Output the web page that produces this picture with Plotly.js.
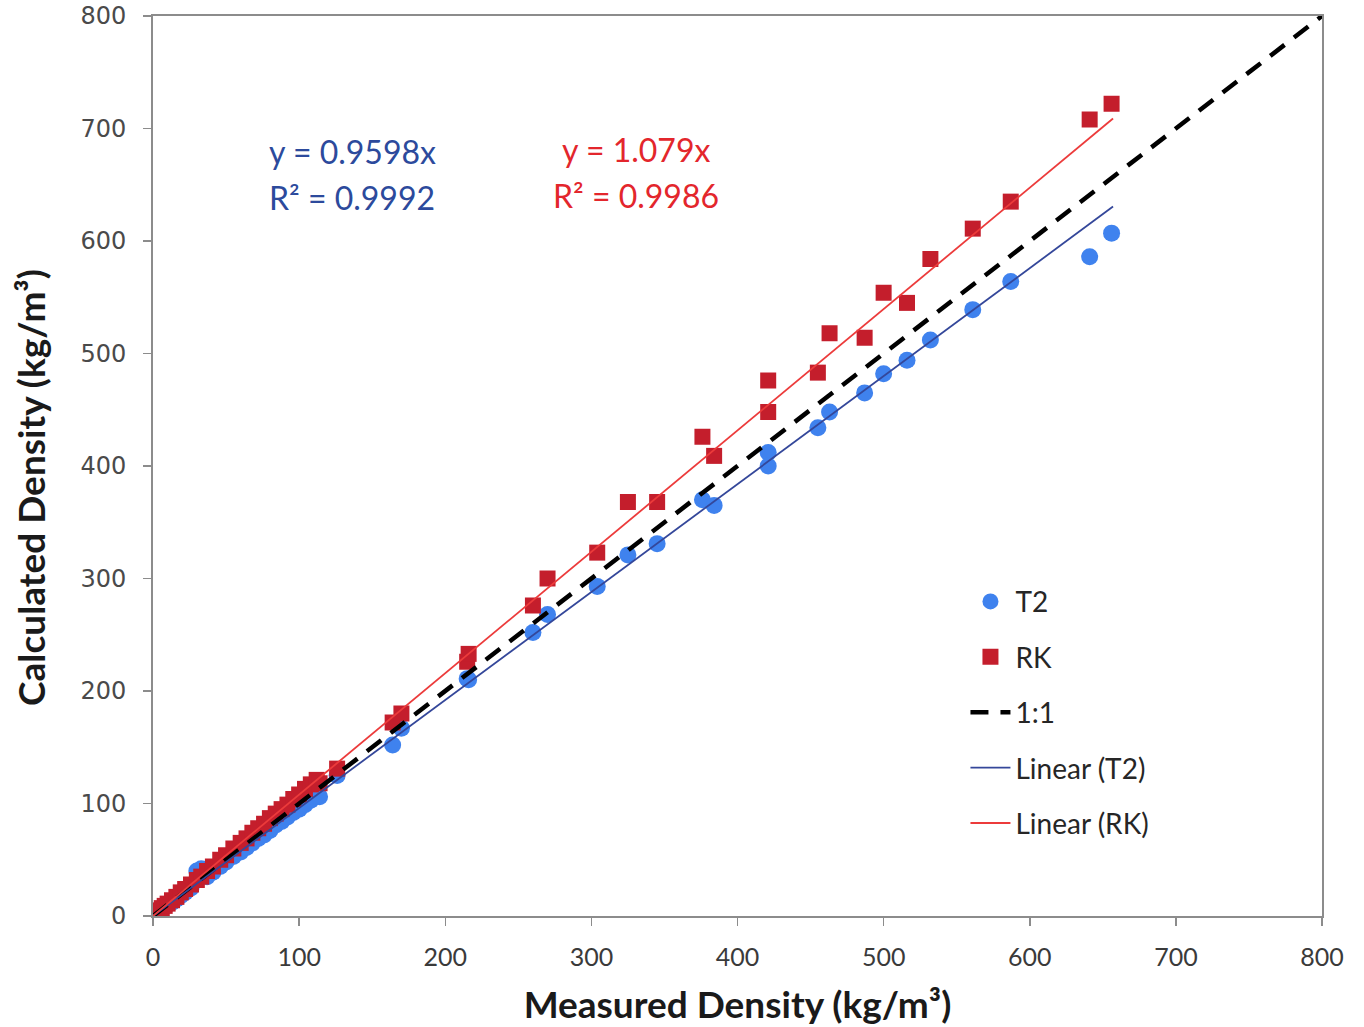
<!DOCTYPE html>
<html>
<head>
<meta charset="utf-8">
<script src="https://cdn.plot.ly/plotly-3.0.1.min.js"></script>
<style>html,body{margin:0;padding:0;background:#fff;}#chart{width:1364px;height:1027px;}</style>
</head>
<body>
<div id="chart"></div>
<script>
// Measured density (kg/m3)
const measured = [0.5, 1, 2, 3, 4, 6, 8, 10, 13, 16, 19, 22, 26, 30, 33, 37, 41, 46, 50, 55, 60, 64, 68, 72, 76, 80, 84, 88, 92, 96, 100, 104, 108, 112,
  114, 126, 164, 170, 215, 216, 260, 270, 304, 325, 345, 376, 384, 421, 421, 455, 463, 487, 500, 516, 532, 561, 587, 641, 656];
// Calculated density, T2
const calcT2 = [0.5, 1, 2, 3, 4, 6, 8, 10, 12, 15, 18, 21, 25, 40, 42, 35, 39, 44, 48, 53, 57, 61, 65, 69, 72, 76, 81, 84, 88, 92, 95, 99, 103, 107,
  106, 125, 152, 167, 211, 210, 252, 268, 293, 321, 331, 370, 365, 412, 400, 434, 448, 465, 482, 494, 512, 539, 564, 586, 607];
// Calculated density, RK
const calcRK = [1, 1.5, 2.5, 3.5, 5, 7, 9, 11, 14, 17, 21, 24, 28, 32, 35, 40, 44, 50, 54, 60, 65, 69, 74, 78, 82, 87, 91, 95, 99, 104, 108, 113, 117, 121,
  118, 131, 172, 180, 226, 233, 276, 300, 323, 368, 368, 426, 409, 476, 448, 483, 518, 514, 554, 545, 584, 611, 635, 708, 722];
// Fitted slopes and extents
const slopeT2 = 0.9598, slopeRK = 1.079;
const fitX = [0, 657];
const oneToOne = [0, 800];
const ticks = [0, 100, 200, 300, 400, 500, 600, 700, 800];

const blueM = '#3f82ee', redM = '#c41e2c', blueL = '#34479a', redL = '#ec3b3b';
const leg = {family: 'Lato, Calibri, sans-serif', size: 28, color: '#262626'};
const titleFont = {family: 'Lato, Calibri, sans-serif', size: 37, color: '#1a1a1a', weight: 'bold'};

const traces = [
  {x: measured, y: calcT2, type: 'scatter', mode: 'markers', name: 'T2', legendgroup: 'a',
   marker: {symbol: 'circle', size: 17, color: blueM}},
  {x: measured, y: calcRK, type: 'scatter', mode: 'markers', name: 'RK', legendgroup: 'b',
   marker: {symbol: 'square', size: 16, color: redM}},
  {x: oneToOne, y: oneToOne, type: 'scatter', mode: 'lines', name: '1:1', legendgroup: 'c',
   line: {color: '#000', width: 4.5, dash: '18px,12px'}},
  {x: fitX, y: fitX.map(v => v * slopeT2), type: 'scatter', mode: 'lines', name: 'Linear (T2)', legendgroup: 'd',
   line: {color: blueL, width: 1.8}},
  {x: fitX, y: fitX.map(v => v * slopeRK), type: 'scatter', mode: 'lines', name: 'Linear (RK)', legendgroup: 'e',
   line: {color: redL, width: 1.8}}
];

function ann(px, py, text, color) {
  return {xref: 'paper', yref: 'paper', x: (px - 153) / 1169, y: (916 - py) / 900, xanchor: 'center', yanchor: 'middle',
          text: text, showarrow: false, font: {family: 'Lato, Calibri, sans-serif', size: 32, color: color}};
}

const layout = {
  width: 1364, height: 1027,
  margin: {l: 153, r: 42, t: 16, b: 111},
  paper_bgcolor: '#fff', plot_bgcolor: '#fff',
  showlegend: true,
  legend: {x: 0.695, y: 0.377, xanchor: 'left', yanchor: 'top', bgcolor: 'rgba(0,0,0,0)',
           font: leg, tracegroupgap: 16, itemwidth: 40},
  xaxis: {range: [0, 800], tickvals: ticks, ticktext: ticks.map(String), showgrid: false, zeroline: false,
          showline: true, linecolor: '#8c8c8c', linewidth: 2, mirror: true,
          ticks: 'outside', ticklen: 8, tickcolor: '#8c8c8c', tickwidth: 1.5, ticklabelstandoff: 10,
          tickfont: {family: 'Lato, Calibri, sans-serif', size: 25, color: '#3a3a3a'},
          title: {text: 'Measured Density (kg/m³)', standoff: 22, font: titleFont}},
  yaxis: {range: [0, 800], tickvals: ticks, ticktext: ticks.map(String), showgrid: false, zeroline: false,
          showline: true, linecolor: '#8c8c8c', linewidth: 2, mirror: true,
          ticks: 'outside', ticklen: 8, tickcolor: '#8c8c8c', tickwidth: 1.5, ticklabelstandoff: 12,
          tickfont: {family: '"DejaVu Sans", Verdana, sans-serif', size: 24, color: '#4a4a4a'}},
  annotations: [
    {xref: 'paper', yref: 'paper', x: (30 - 153) / 1169, y: (916 - 488) / 900, xanchor: 'center', yanchor: 'middle',
     textangle: -90, text: 'Calculated Density (kg/m³)', showarrow: false, font: titleFont},
    ann(352, 152, 'y = 0.9598x', '#2c4a9c'),
    ann(352, 197, 'R² = 0.9992', '#2c4a9c'),
    ann(636, 150, 'y = 1.079x', '#e3262c'),
    ann(636, 196, 'R² = 0.9986', '#e3262c')
  ]
};

Plotly.newPlot('chart', traces, layout, {displayModeBar: false, staticPlot: true});
</script>
</body>
</html>
